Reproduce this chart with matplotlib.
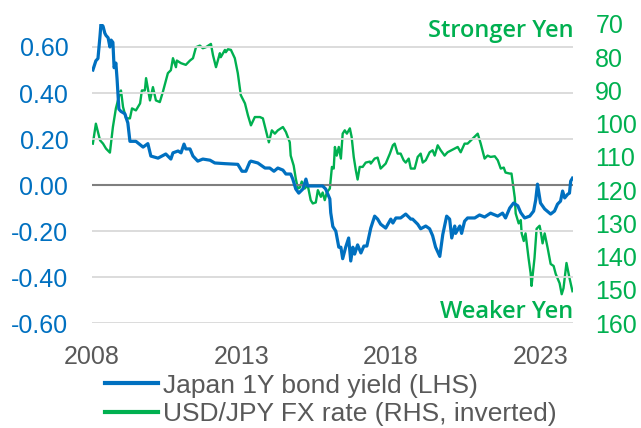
import matplotlib
matplotlib.use("Agg")
import matplotlib.pyplot as plt
from matplotlib.ticker import FuncFormatter

plt.rcParams["font.family"] = ["Liberation Sans", "DejaVu Sans"]

# Japan 1Y government bond yield (%) (decimal year, value)
jgb_t = [2008.03, 2008.13, 2008.20, 2008.27, 2008.30, 2008.37, 2008.43, 2008.47, 2008.54,
         2008.60, 2008.64, 2008.70, 2008.74, 2008.80, 2008.84, 2008.90, 2008.97, 2009.10,
         2009.20, 2009.27, 2009.47, 2009.71, 2009.87, 2009.97, 2010.21, 2010.47, 2010.64,
         2010.71, 2010.88, 2010.98, 2011.08, 2011.14, 2011.28, 2011.38, 2011.54, 2011.71,
         2011.95, 2012.11, 2012.45, 2012.88, 2013.02, 2013.15, 2013.28, 2013.32, 2013.55,
         2013.79, 2013.95, 2014.09, 2014.22, 2014.39, 2014.49, 2014.65, 2014.72, 2014.82,
         2014.92, 2015.06, 2015.16, 2015.22, 2015.46, 2015.72, 2015.82, 2015.96, 2015.99,
         2016.06, 2016.16, 2016.26, 2016.33, 2016.39, 2016.49, 2016.59, 2016.66, 2016.73,
         2016.79, 2016.89, 2017.00, 2017.10, 2017.20, 2017.33, 2017.46, 2017.56, 2017.66,
         2017.83, 2018.00, 2018.07, 2018.17, 2018.33, 2018.50, 2018.67, 2018.73, 2018.90,
         2019.00, 2019.17, 2019.30, 2019.40, 2019.50, 2019.64, 2019.74, 2019.87, 2019.97,
         2020.04, 2020.14, 2020.17, 2020.31, 2020.37, 2020.47, 2020.57, 2020.81, 2020.97,
         2021.14, 2021.34, 2021.41, 2021.58, 2021.74, 2021.84, 2021.98, 2022.11, 2022.25,
         2022.35, 2022.48, 2022.65, 2022.78, 2022.85, 2022.91, 2023.01, 2023.15, 2023.35,
         2023.48, 2023.58, 2023.68, 2023.75, 2023.82, 2023.92, 2023.98, 2024.02, 2024.08]
jgb_v = [0.50, 0.54, 0.55, 0.65, 0.70, 0.69, 0.66, 0.65, 0.64,
         0.60, 0.63, 0.62, 0.51, 0.53, 0.46, 0.33, 0.32, 0.31,
         0.27, 0.19, 0.19, 0.165, 0.18, 0.126, 0.117, 0.135, 0.113,
         0.14, 0.148, 0.14, 0.178, 0.157, 0.157, 0.126, 0.104, 0.113,
         0.108, 0.096, 0.093, 0.09, 0.06, 0.06, 0.10, 0.104, 0.096,
         0.074, 0.074, 0.06, 0.074, 0.065, 0.048, 0.048, 0.026, -0.017,
         -0.035, -0.017, 0.026, -0.004, -0.004, -0.004, -0.017, -0.06, -0.12,
         -0.18, -0.20, -0.27, -0.27, -0.32, -0.27, -0.23, -0.33, -0.27,
         -0.30, -0.26, -0.295, -0.265, -0.265, -0.187, -0.135, -0.148, -0.17,
         -0.187, -0.148, -0.165, -0.143, -0.143, -0.126, -0.148, -0.148, -0.17,
         -0.19, -0.178, -0.19, -0.22, -0.27, -0.31, -0.215, -0.135, -0.148,
         -0.23, -0.178, -0.21, -0.178, -0.21, -0.157, -0.143, -0.143, -0.13,
         -0.139, -0.122, -0.126, -0.135, -0.122, -0.143, -0.10, -0.078, -0.09,
         -0.12, -0.143, -0.135, -0.113, -0.065, 0.004, -0.078, -0.104, -0.126,
         -0.113, -0.083, -0.07, -0.026, -0.056, -0.04, -0.035, 0.017, 0.03]

# USD/JPY spot rate
fx_t = [2008.03, 2008.13, 2008.27, 2008.37, 2008.47, 2008.60, 2008.70, 2008.80, 2008.94,
        2008.97, 2009.04, 2009.14, 2009.27, 2009.34, 2009.47, 2009.61, 2009.67, 2009.77,
        2009.81, 2009.94, 2010.04, 2010.14, 2010.27, 2010.37, 2010.54, 2010.64, 2010.71,
        2010.81, 2010.84, 2010.98, 2011.14, 2011.28, 2011.38, 2011.48, 2011.61, 2011.71,
        2011.81, 2011.98, 2012.05, 2012.15, 2012.28, 2012.31, 2012.45, 2012.48, 2012.55,
        2012.65, 2012.78, 2012.88, 2012.98, 2013.12, 2013.22, 2013.32, 2013.45, 2013.62,
        2013.72, 2013.82, 2013.92, 2014.02, 2014.12, 2014.22, 2014.32, 2014.39, 2014.49,
        2014.62, 2014.65, 2014.75, 2014.82, 2014.89, 2014.96, 2015.02, 2015.12, 2015.22,
        2015.32, 2015.39, 2015.49, 2015.56, 2015.66, 2015.72, 2015.79, 2015.86, 2015.96,
        2016.03, 2016.09, 2016.13, 2016.19, 2016.26, 2016.33, 2016.39, 2016.46, 2016.53,
        2016.63, 2016.69, 2016.76, 2016.83, 2016.89, 2016.96, 2017.06, 2017.16, 2017.30,
        2017.33, 2017.46, 2017.56, 2017.66, 2017.83, 2017.97, 2018.07, 2018.13, 2018.23,
        2018.33, 2018.43, 2018.50, 2018.60, 2018.67, 2018.80, 2018.90, 2019.00, 2019.07,
        2019.17, 2019.30, 2019.40, 2019.47, 2019.57, 2019.67, 2019.80, 2019.90, 2020.07,
        2020.24, 2020.34, 2020.47, 2020.57, 2020.74, 2020.91, 2021.01, 2021.14, 2021.24,
        2021.34, 2021.48, 2021.58, 2021.68, 2021.78, 2021.84, 2021.98, 2022.04, 2022.15,
        2022.18, 2022.28, 2022.35, 2022.38, 2022.45, 2022.51, 2022.61, 2022.68, 2022.71,
        2022.81, 2022.88, 2022.98, 2023.01, 2023.08, 2023.15, 2023.25, 2023.35, 2023.45,
        2023.52, 2023.65, 2023.72, 2023.78, 2023.88, 2023.98, 2024.08]
fx_v = [106.0, 100.0, 105.0, 106.0, 107.5, 108.7, 101.0, 95.4, 90.5,
        90.0, 95.0, 98.4, 98.4, 95.4, 96.0, 93.9, 90.0, 90.0,
        86.3, 93.0, 89.0, 93.0, 93.5, 90.5, 84.8, 83.9, 80.3,
        83.0, 81.0, 81.8, 82.3, 81.0, 80.3, 77.0, 76.5, 77.3,
        77.0, 76.0, 79.4, 83.0, 78.8, 80.0, 77.8, 78.5, 77.6,
        77.8, 80.3, 84.8, 91.4, 93.9, 97.5, 100.5, 98.0, 98.0,
        98.4, 102.0, 105.6, 102.0, 103.0, 102.0, 101.4, 101.0, 102.5,
        105.6, 109.6, 112.6, 116.5, 119.5, 119.2, 117.4, 119.5, 118.5,
        123.0, 124.0, 123.7, 120.0, 122.0, 120.7, 123.0, 120.7, 119.5,
        113.0, 113.5, 107.0, 109.6, 107.0, 110.5, 103.0, 102.0, 103.0,
        101.4, 104.0, 110.0, 114.0, 116.8, 113.0, 113.0, 111.7, 111.4,
        112.0, 110.5, 110.2, 113.5, 112.0, 109.0, 106.5, 106.0, 109.0,
        109.0, 111.0, 111.7, 110.5, 113.5, 113.5, 110.0, 109.0, 111.7,
        111.0, 108.6, 108.0, 109.6, 106.5, 108.0, 109.6, 108.6, 107.8,
        107.0, 108.6, 106.0, 106.0, 104.5, 103.0, 106.0, 110.5, 109.6,
        110.0, 109.8, 111.0, 113.5, 113.2, 114.7, 115.0, 115.0, 122.3,
        127.0, 130.0, 129.0, 133.0, 135.3, 133.0, 140.4, 145.0, 148.8,
        140.4, 131.6, 130.7, 132.0, 136.0, 133.0, 137.4, 142.2, 142.8,
        145.2, 148.0, 151.3, 149.5, 141.9, 146.4, 150.4]

year_ticks = [2008, 2013, 2018, 2023]
left_ticks = [-0.6, -0.4, -0.2, 0.0, 0.2, 0.4, 0.6]
right_ticks = [70, 80, 90, 100, 110, 120, 130, 140, 150, 160]

blue = "#0070C0"
green = "#00B050"
grey = "#595959"

fig = plt.figure(figsize=(6.41, 4.28), dpi=100)
ax = fig.add_axes([0.1435, 0.245, 0.7505, 0.699])
ax2 = ax.twinx()

for v in left_ticks:
    if v == 0:
        ax.axhline(v, color="#7f7f7f", lw=1.5, zorder=1)
    else:
        ax.axhline(v, color="#d9d9d9", lw=1.3, zorder=1)

l1, = ax.plot(jgb_t, jgb_v, color=blue, lw=2.3, zorder=3,
              label="Japan 1Y bond yield (LHS)")
l2, = ax2.plot(fx_t, fx_v, color=green, lw=1.7, zorder=2,
               label="USD/JPY FX rate (RHS, inverted)")
ax.set_zorder(ax2.get_zorder() + 1)
ax.patch.set_visible(False)

ax.set_xlim(2008, 2024.1)
ax.set_ylim(-0.6, 0.7)
ax2.set_ylim(160, 70)

ax.set_xticks(year_ticks)
ax.set_xticklabels([str(y) for y in year_ticks])
ax.set_yticks(left_ticks)
ax.yaxis.set_major_formatter(FuncFormatter(lambda v, p: f"{v:.2f}".replace("\u2212", "-")))
ax2.set_yticks(right_ticks)

ax.tick_params(axis="x", length=0, pad=16, labelsize=18, labelcolor=grey)
ax.tick_params(axis="y", length=0, pad=17, labelsize=18, labelcolor=blue)
ax2.tick_params(axis="y", length=0, pad=16, labelsize=18, labelcolor=green)

for a in (ax, ax2):
    for s in a.spines.values():
        s.set_visible(False)

ax.text(1.002, 0.9565, "Stronger Yen", transform=ax.transAxes, ha="right", va="baseline",
        color=green, fontsize=17, fontfamily="Open Sans", fontweight=600)
ax.text(1.0, 0.0167, "Weaker Yen", transform=ax.transAxes, ha="right", va="baseline",
        color=green, fontsize=17, fontfamily="Open Sans", fontweight=600)

fig.legend(handles=[l1, l2], loc="upper left", bbox_to_anchor=(0.164, 0.127),
           frameon=False, fontsize=19, labelcolor=grey, handlelength=2.0,
           handletextpad=0.2, labelspacing=0.17, borderpad=0, borderaxespad=0)
for h in fig.legends[0].get_lines():
    h.set_linewidth(3)

fig.savefig("out.png", dpi=100)
